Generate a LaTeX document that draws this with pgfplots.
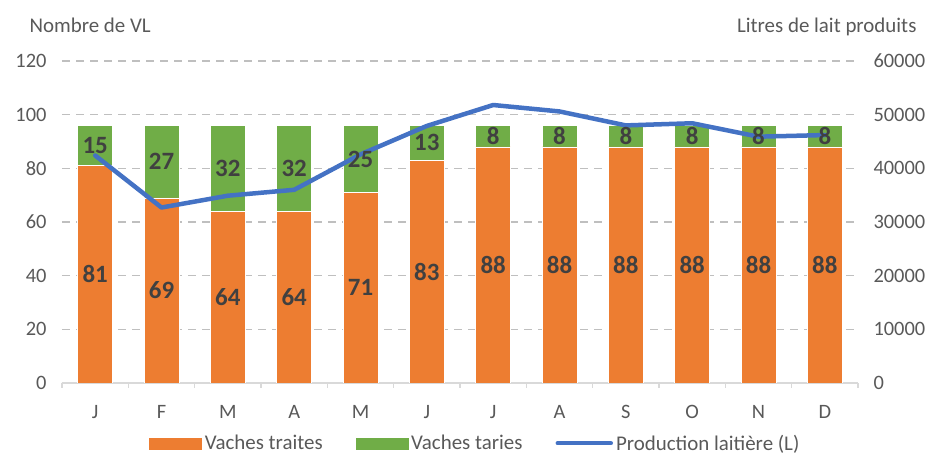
\documentclass[border=0pt]{standalone}
\usepackage{fontspec}
\setmainfont{Carlito}
\usepackage{pgfplots}
\usepackage{pgfplotstable}
\pgfplotsset{compat=1.18}
\definecolor{orangeb}{HTML}{ED7D31}
\definecolor{greenb}{HTML}{70AD47}
\definecolor{blueL}{HTML}{4472C4}
\definecolor{tickgray}{HTML}{595959}
\definecolor{labgray}{HTML}{404040}
\definecolor{gridgray}{HTML}{BFBFBF}
\definecolor{axisgray}{HTML}{D9D9D9}

\pgfplotstableread{
x traites taries prod
0 81 15 42400
1 69 27 32700
2 64 32 34900
3 64 32 36000
4 71 25 42600
5 83 13 47900
6 88 8 51800
7 88 8 50600
8 88 8 48000
9 88 8 48400
10 88 8 45900
11 88 8 46200
}\data

\pgfplotsset{
  common/.style={
    scale only axis, width=796bp, height=322bp,
    at={(62bp,71bp)}, anchor=south west,
    xmin=-0.5, xmax=11.5,
    tick label style={font=\fontsize{20.5}{24}\selectfont, text=tickgray},
    /pgf/number format/assume math mode=true,
  },
}

\begin{document}
\begin{tikzpicture}
\useasboundingbox (0,0) rectangle (932bp,454bp);

% Left axis: stacked bars
\begin{axis}[common,
  ybar stacked, bar width=35bp,
  ymin=0, ymax=120, ytick={0,20,...,120},
  axis x line*=bottom, axis y line*=left,
  x axis line style={axisgray, line width=1.3bp},
  y axis line style={draw=none},
  xtick={0,...,11},
  xticklabels={J,F,M,A,M,J,J,A,S,O,N,D},
  minor xtick={-0.5,0.5,...,11.5},
  major tick length=0pt, minor tick length=5bp,
  xtick align=outside,
  minor x tick style={axisgray, line width=1.3bp},
  ytick style={draw=none},
  ymajorgrids,
  major grid style={gridgray, dash pattern=on 8bp off 6bp, line width=1.2bp},
  xticklabel style={yshift=-19bp},
  yticklabel style={xshift=-12bp},
]
\addplot[fill=orangeb, draw=white, line width=0.6bp] table[x=x, y=traites] {\data};
\addplot[fill=greenb, draw=white, line width=0.6bp] table[x=x, y=taries] {\data};
\end{axis}

% Right axis: production line
\begin{axis}[common,
  ymin=0, ymax=60000, ytick={0,10000,...,60000},
  axis x line=none, axis y line*=right,
  y axis line style={draw=none},
  ytick style={draw=none},
  scaled y ticks=false,
  /pgf/number format/1000 sep={},
  yticklabel style={xshift=12bp},
  legend columns=3,
  legend style={draw=none, fill=none, at={(0.52,-0.187)}, anchor=center,
    font=\fontsize{21}{24}\selectfont, text=tickgray,
    /tikz/every even column/.append style={column sep=30bp},
    nodes={inner xsep=3bp, inner ysep=0.5bp}},
  legend cell align=left,
]
\addlegendimage{legend image code/.code={\fill[orangeb] (0bp,-5.5bp) rectangle (52bp,5.5bp);}}
\addlegendentry{Vaches traites}
\addlegendimage{legend image code/.code={\fill[greenb] (0bp,-5.5bp) rectangle (52bp,5.5bp);}}
\addlegendentry{Vaches taries}
\addplot[blueL, line width=4.5bp, line join=round, line cap=round, mark=none,
  legend image code/.code={\draw[blueL, line width=4.5bp, line cap=round] (2bp,0) -- (55bp,0);}]
  table[x=x, y=prod] {\data};
\addlegendentry{Production laitière (L)}
\end{axis}

% Data labels overlay
\begin{axis}[common,
  ymin=0, ymax=120, hide axis,
  point meta=explicit,
  nodes near coords={\pgfmathprintnumber{\pgfplotspointmeta}},
  every node near coord/.append style={anchor=center,
    font=\bfseries\fontsize{25}{30}\selectfont, text=labgray},
]
\addplot[draw=none, mark=none, nodes near coords align=center]
  table[x=x, y expr=\thisrow{traites}/2, meta=traites] {\data};
\addplot[draw=none, mark=none, nodes near coords align=center]
  table[x=x, y expr=\thisrow{traites}+\thisrow{taries}/2, meta=taries] {\data};
\end{axis}

\node[anchor=base west, font=\fontsize{21}{24}\selectfont, text=tickgray] at (26bp,421bp) {Nombre de VL};
\node[anchor=base east, font=\fontsize{21}{24}\selectfont, text=tickgray] at (920bp,421bp) {Litres de lait produits};
\end{tikzpicture}
\end{document}
